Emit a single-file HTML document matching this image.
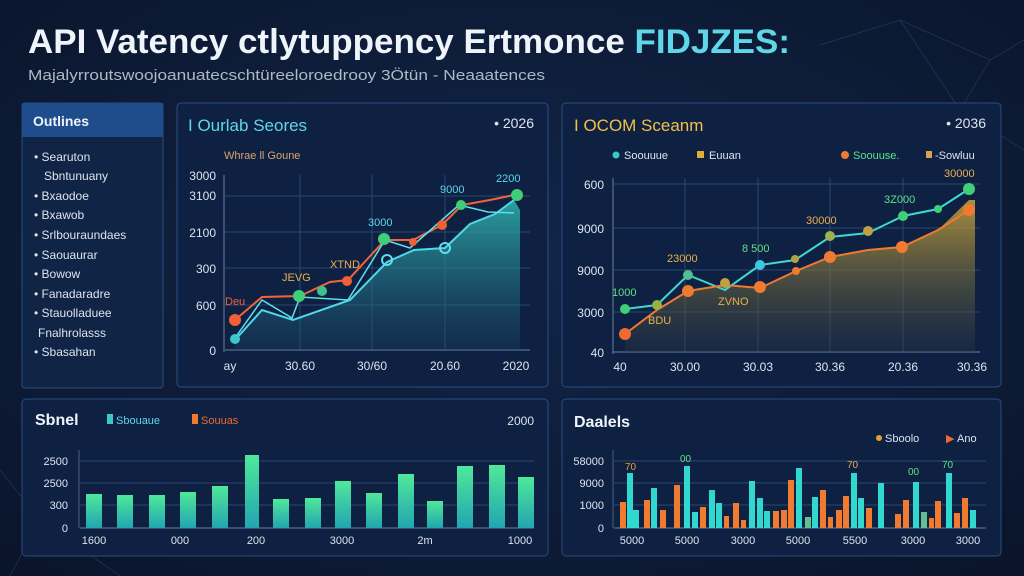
<!DOCTYPE html>
<html><head><meta charset="utf-8"><style>
html,body{margin:0;padding:0;width:1024px;height:576px;overflow:hidden;background:#0b1730}
svg{display:block}
text{font-family:"Liberation Sans",sans-serif}
</style></head><body>
<svg width="1024" height="576" viewBox="0 0 1024 576" xmlns="http://www.w3.org/2000/svg">
<defs>
<radialGradient id="bg" cx="0.5" cy="0.45" r="0.8">
<stop offset="0" stop-color="#12264a"/><stop offset="1" stop-color="#091327"/></radialGradient>
<linearGradient id="cf" x1="0" y1="0" x2="0" y2="1"><stop offset="0" stop-color="#2fb7b0" stop-opacity="0.85"/><stop offset="1" stop-color="#1b4a6a" stop-opacity="0.3"/></linearGradient>
<linearGradient id="yf" x1="0" y1="0" x2="0" y2="1"><stop offset="0" stop-color="#c9a43a" stop-opacity="0.85"/><stop offset="1" stop-color="#2a3a40" stop-opacity="0.3"/></linearGradient>
<linearGradient id="bar" x1="0" y1="0" x2="0" y2="1"><stop offset="0" stop-color="#4fe89a"/><stop offset="1" stop-color="#23a5b0"/></linearGradient>
</defs>
<rect width="1024" height="576" fill="url(#bg)"/>
<g stroke="#2d5b8f" stroke-width="0.7" opacity="0.5" fill="none">
<path d="M820 45 L900 20 L990 60 L1024 40 M900 20 L960 110 L1024 150 M990 60 L960 110"/>
<path d="M0 470 L40 520 L10 576 M40 520 L120 576"/>
</g>
<text x="28" y="53" font-size="34" font-weight="bold" fill="#eef4fa" textLength="762" lengthAdjust="spacingAndGlyphs">API Vatency ctlytuppency Ertmonce <tspan fill="#5fd7e8">FIDJZES:</tspan></text>
<text x="28" y="80" font-size="14.5" fill="#aeb8c6" textLength="517" lengthAdjust="spacingAndGlyphs">Majalyrroutswoojoanuatecschtüreeloroedrooy 3Ötün - Neaaatences</text>

<!-- sidebar -->
<rect x="22" y="103" width="141" height="285" rx="3" fill="#102446" stroke="#2a4d7f"/>
<rect x="22" y="103" width="141" height="34" fill="#1f4d8c"/>
<text x="33" y="126" font-size="14" font-weight="bold" fill="#eef4fa">Outlines</text>
<g font-size="12" fill="#dde4ee">
<text x="34" y="161">• Searuton</text>
<text x="44" y="180">Sbntunuany</text>
<text x="34" y="200">• Bxaodoe</text>
<text x="34" y="219">• Bxawob</text>
<text x="34" y="239">• Srlbouraundaes</text>
<text x="34" y="259">• Saouaurar</text>
<text x="34" y="278">• Bowow</text>
<text x="34" y="298">• Fanadaradre</text>
<text x="34" y="317">• Stauolladuee</text>
<text x="38" y="337">Fnalhrolasss</text>
<text x="34" y="356">• Sbasahan</text>
</g>

<!-- chart 2 -->
<rect x="177" y="103" width="371" height="284" rx="4" fill="#0f2143" stroke="#2a4d7f"/>
<text x="188" y="131" font-size="17" fill="#5fd7e8">I Ourlab Seores</text>
<text x="534" y="128" font-size="14" fill="#dde4ee" text-anchor="end">• 2026</text>
<text x="224" y="159" font-size="11" fill="#d9a36b">Whrae ll Goune</text>
<g stroke="#2b4670" stroke-width="1">
<line x1="225" y1="196" x2="530" y2="196"/><line x1="225" y1="232" x2="530" y2="232"/><line x1="225" y1="268" x2="530" y2="268"/><line x1="225" y1="305" x2="530" y2="305"/>
<line x1="300" y1="175" x2="300" y2="350"/><line x1="372" y1="175" x2="372" y2="350"/><line x1="445" y1="175" x2="445" y2="350"/>
</g>
<line x1="225" y1="350" x2="530" y2="350" stroke="#6b7f9e"/><line x1="224" y1="175" x2="224" y2="352" stroke="#6b7f9e"/>
<g font-size="12" fill="#dde4ee" text-anchor="end">
<text x="216" y="180">3000</text><text x="216" y="200">3100</text><text x="216" y="237">2100</text><text x="216" y="273">300</text><text x="216" y="310">600</text><text x="216" y="355">0</text>
</g>
<g font-size="12" fill="#dde4ee" text-anchor="middle">
<text x="230" y="370">ay</text><text x="300" y="370">30.60</text><text x="372" y="370">30/60</text><text x="445" y="370">20.60</text><text x="516" y="370">2020</text>
</g>
<path d="M235 340 L262 310 L293 320 L350 300 L387 262 L414 250 L445 248 L470 224 L495 214 L514 200 L520 210 L520 350 L235 350 Z" fill="url(#cf)"/>
<polyline points="235,340 262,310 293,320 350,300 387,262 414,250 445,248 470,224 495,214 514,200" fill="none" stroke="#4fd8e8" stroke-width="2"/>
<polyline points="235,320 262,297 300,296 330,282 348,280 385,240 413,240 442,225 462,205 490,200 514,195" fill="none" stroke="#f0643a" stroke-width="2"/>
<polyline points="235,338 262,300 292,318 300,297 348,300 385,240 410,248 459,205 488,212 514,213" fill="none" stroke="#5fe0e8" stroke-width="1.5"/>
<g>
<circle cx="235" cy="320" r="6" fill="#f06036"/><circle cx="235" cy="339" r="5" fill="#3cc8c8"/>
<circle cx="299" cy="296" r="6" fill="#3fcf78"/><circle cx="322" cy="291" r="5" fill="#40c090"/>
<circle cx="347" cy="281" r="5" fill="#f06036"/><circle cx="384" cy="239" r="6" fill="#3fcf78"/>
<circle cx="413" cy="242" r="4" fill="#f06036"/><circle cx="442" cy="225" r="5" fill="#f06036"/>
<circle cx="461" cy="205" r="5" fill="#3fcf78"/><circle cx="517" cy="195" r="6" fill="#3fcf78"/>
<circle cx="387" cy="260" r="5" fill="none" stroke="#5fe0e8" stroke-width="2"/><circle cx="445" cy="248" r="5" fill="none" stroke="#5fe0e8" stroke-width="2"/>
</g>
<g font-size="11">
<text x="225" y="305" fill="#f06036">Deu</text><text x="282" y="281" fill="#e8b04a">JEVG</text><text x="330" y="268" fill="#e8b04a">XTND</text>
<text x="368" y="226" fill="#5fd7e8">3000</text><text x="440" y="193" fill="#5fd7e8">9000</text><text x="496" y="182" fill="#5fd7e8">2200</text>
</g>

<!-- chart 3 -->
<rect x="562" y="103" width="439" height="284" rx="4" fill="#0f2143" stroke="#2a4d7f"/>
<text x="574" y="131" font-size="17" fill="#f2c04a">I OCOM Sceanm</text>
<text x="986" y="128" font-size="14" fill="#dde4ee" text-anchor="end">• 2036</text>
<g font-size="11">
<circle cx="616" cy="155" r="3.5" fill="#3cc8c8"/><text x="624" y="159" fill="#dde4ee">Soouuue</text>
<rect x="697" y="151" width="7" height="7" fill="#d8b03a"/><text x="709" y="159" fill="#dde4ee">Euuan</text>
<circle cx="845" cy="155" r="4" fill="#f07a30"/><text x="853" y="159" fill="#5fe08a">Soouuse.</text>
<rect x="926" y="151" width="6" height="7" fill="#d8a050"/><text x="935" y="159" fill="#dde4ee">-Sowluu</text>
</g>
<g stroke="#2b4670" stroke-width="1">
<line x1="614" y1="184" x2="980" y2="184"/><line x1="614" y1="228" x2="980" y2="228"/><line x1="614" y1="270" x2="980" y2="270"/><line x1="614" y1="312" x2="980" y2="312"/>
<line x1="685" y1="178" x2="685" y2="352"/><line x1="758" y1="178" x2="758" y2="352"/><line x1="830" y1="178" x2="830" y2="352"/><line x1="903" y1="178" x2="903" y2="352"/>
</g>
<line x1="613" y1="352" x2="980" y2="352" stroke="#6b7f9e"/><line x1="613" y1="178" x2="613" y2="354" stroke="#6b7f9e"/>
<g font-size="12" fill="#dde4ee" text-anchor="end">
<text x="604" y="189">600</text><text x="604" y="233">9000</text><text x="604" y="275">9000</text><text x="604" y="317">3000</text><text x="604" y="357">40</text>
</g>
<g font-size="12" fill="#dde4ee" text-anchor="middle">
<text x="620" y="371">40</text><text x="685" y="371">30.00</text><text x="758" y="371">30.03</text><text x="830" y="371">30.36</text><text x="903" y="371">20.36</text><text x="972" y="371">30.36</text>
</g>
<path d="M625 334 L657 310 L688 291 L725 285 L760 288 L796 271 L830 257 L868 250 L902 247 L938 230 L969 200 L975 200 L975 352 L625 352 Z" fill="url(#yf)"/>
<polyline points="625,309 657,305 688,275 725,290 760,265 795,260 830,237 868,233 903,216 938,209 969,189" fill="none" stroke="#3fd8d0" stroke-width="2"/>
<polyline points="625,334 657,310 688,291 725,285 760,288 796,271 830,257 868,250 902,247 938,230 969,210" fill="none" stroke="#f07a30" stroke-width="2"/>
<g>
<circle cx="625" cy="309" r="5" fill="#3fcf78"/><circle cx="657" cy="305" r="5" fill="#9ab040"/><circle cx="688" cy="275" r="5" fill="#50c090"/>
<circle cx="725" cy="283" r="5" fill="#c0a040"/><circle cx="760" cy="265" r="5" fill="#3cc8e0"/><circle cx="795" cy="259" r="4" fill="#b0a040"/>
<circle cx="830" cy="236" r="5" fill="#a0b050"/><circle cx="868" cy="231" r="5" fill="#c0a040"/><circle cx="903" cy="216" r="5" fill="#3fcf78"/>
<circle cx="938" cy="209" r="4" fill="#3fcf78"/><circle cx="969" cy="189" r="6" fill="#3fcf78"/>
<circle cx="625" cy="334" r="6" fill="#f06a30"/><circle cx="688" cy="291" r="6" fill="#f07a30"/><circle cx="760" cy="287" r="6" fill="#f07a30"/>
<circle cx="796" cy="271" r="4" fill="#f07a30"/><circle cx="830" cy="257" r="6" fill="#f07a30"/><circle cx="902" cy="247" r="6" fill="#f07a30"/><circle cx="969" cy="210" r="6" fill="#f07a30"/>
</g>
<g font-size="11">
<text x="612" y="296" fill="#5fe08a">1000</text><text x="648" y="324" fill="#e8b04a">BDU</text><text x="667" y="262" fill="#e8b04a">23000</text>
<text x="718" y="305" fill="#e8b04a">ZVNO</text><text x="742" y="252" fill="#5fe08a">8 500</text><text x="806" y="224" fill="#e8b04a">30000</text>
<text x="884" y="203" fill="#5fe08a">3Z000</text><text x="944" y="177" fill="#e8b04a">30000</text>
</g>

<!-- chart 4 -->
<rect x="22" y="399" width="526" height="157" rx="4" fill="#0f2143" stroke="#2a4d7f"/>
<text x="35" y="425" font-size="16" font-weight="bold" fill="#eef4fa">Sbnel</text>
<rect x="107" y="414" width="6" height="10" fill="#3cc8c8"/><text x="116" y="424" font-size="11" fill="#5fd7e8">Sbouaue</text>
<rect x="192" y="414" width="6" height="10" fill="#f07a30"/><text x="201" y="424" font-size="11" fill="#f06a30">Souuas</text>
<text x="534" y="425" font-size="12" fill="#dde4ee" text-anchor="end">2000</text>
<g stroke="#2b4670"><line x1="80" y1="461" x2="534" y2="461"/><line x1="80" y1="483" x2="534" y2="483"/><line x1="80" y1="505" x2="534" y2="505"/></g>
<line x1="80" y1="528" x2="534" y2="528" stroke="#6b7f9e"/><line x1="79" y1="450" x2="79" y2="528" stroke="#4b5f7e"/>
<g font-size="11" fill="#dde4ee" text-anchor="end"><text x="68" y="465">2500</text><text x="68" y="487">2500</text><text x="68" y="509">300</text><text x="68" y="532">0</text></g>
<g fill="url(#bar)">
<rect x="86" y="494" width="16" height="34"/><rect x="117" y="495" width="16" height="33"/><rect x="149" y="495" width="16" height="33"/>
<rect x="180" y="492" width="16" height="36"/><rect x="212" y="486" width="16" height="42"/><rect x="245" y="455" width="14" height="73"/>
<rect x="273" y="499" width="16" height="29"/><rect x="305" y="498" width="16" height="30"/><rect x="335" y="481" width="16" height="47"/>
<rect x="366" y="493" width="16" height="35"/><rect x="398" y="474" width="16" height="54"/><rect x="427" y="501" width="16" height="27"/>
<rect x="457" y="466" width="16" height="62"/><rect x="489" y="465" width="16" height="63"/><rect x="518" y="477" width="16" height="51"/>
</g>
<g font-size="11" fill="#dde4ee" text-anchor="middle">
<text x="94" y="544">1600</text><text x="180" y="544">000</text><text x="256" y="544">200</text><text x="342" y="544">3000</text><text x="425" y="544">2m</text><text x="520" y="544">1000</text>
</g>

<!-- chart 5 -->
<rect x="562" y="399" width="439" height="157" rx="4" fill="#0f2143" stroke="#2a4d7f"/>
<text x="574" y="427" font-size="16" font-weight="bold" fill="#eef4fa">Daalels</text>
<circle cx="879" cy="438" r="3" fill="#e8a030"/><text x="885" y="442" font-size="11" fill="#dde4ee">Sboolo</text>
<text x="946" y="442" font-size="11" fill="#f06a30">▶</text><text x="957" y="442" font-size="11" fill="#dde4ee">Ano</text>
<g stroke="#2b4670"><line x1="614" y1="461" x2="986" y2="461"/><line x1="614" y1="483" x2="986" y2="483"/><line x1="614" y1="505" x2="986" y2="505"/></g>
<line x1="614" y1="528" x2="986" y2="528" stroke="#6b7f9e"/><line x1="613" y1="450" x2="613" y2="528" stroke="#4b5f7e"/>
<g font-size="11" fill="#dde4ee" text-anchor="end"><text x="604" y="465">58000</text><text x="604" y="487">9000</text><text x="604" y="509">1000</text><text x="604" y="532">0</text></g>
<g>
<rect x="620" y="502" width="6" height="26" fill="#f07a30"/><rect x="627" y="473" width="6" height="55" fill="#30d8d0"/><rect x="633" y="510" width="6" height="18" fill="#30d8d0"/>
<rect x="644" y="500" width="6" height="28" fill="#f07a30"/><rect x="651" y="488" width="6" height="40" fill="#30d8d0"/><rect x="660" y="510" width="6" height="18" fill="#f07a30"/>
<rect x="674" y="485" width="6" height="43" fill="#f07a30"/><rect x="684" y="466" width="6" height="62" fill="#30d8d0"/><rect x="692" y="512" width="6" height="16" fill="#30d8d0"/>
<rect x="700" y="507" width="6" height="21" fill="#f07a30"/><rect x="709" y="490" width="6" height="38" fill="#30d8d0"/><rect x="716" y="503" width="6" height="25" fill="#30d8d0"/>
<rect x="724" y="516" width="5" height="12" fill="#f07a30"/><rect x="733" y="503" width="6" height="25" fill="#f07a30"/><rect x="741" y="520" width="5" height="8" fill="#f07a30"/>
<rect x="749" y="481" width="6" height="47" fill="#30d8d0"/><rect x="757" y="498" width="6" height="30" fill="#30d8d0"/><rect x="764" y="511" width="6" height="17" fill="#30d8d0"/>
<rect x="773" y="511" width="6" height="17" fill="#f07a30"/><rect x="781" y="510" width="6" height="18" fill="#f07a30"/><rect x="788" y="480" width="6" height="48" fill="#f07a30"/>
<rect x="796" y="468" width="6" height="60" fill="#30d8d0"/><rect x="805" y="517" width="6" height="11" fill="#60c090"/><rect x="812" y="497" width="6" height="31" fill="#30d8d0"/>
<rect x="820" y="490" width="6" height="38" fill="#f07a30"/><rect x="828" y="517" width="5" height="11" fill="#f07a30"/><rect x="836" y="510" width="6" height="18" fill="#f07a30"/>
<rect x="843" y="496" width="6" height="32" fill="#f07a30"/><rect x="851" y="473" width="6" height="55" fill="#30d8d0"/><rect x="858" y="498" width="6" height="30" fill="#30d8d0"/>
<rect x="866" y="508" width="6" height="20" fill="#f07a30"/><rect x="878" y="483" width="6" height="45" fill="#30d8d0"/><rect x="895" y="514" width="6" height="14" fill="#f07a30"/>
<rect x="903" y="500" width="6" height="28" fill="#f07a30"/><rect x="913" y="482" width="6" height="46" fill="#30d8d0"/><rect x="921" y="512" width="6" height="16" fill="#60c090"/>
<rect x="929" y="518" width="5" height="10" fill="#f07a30"/><rect x="935" y="501" width="6" height="27" fill="#f07a30"/><rect x="946" y="473" width="6" height="55" fill="#30d8d0"/>
<rect x="954" y="513" width="6" height="15" fill="#f07a30"/><rect x="962" y="498" width="6" height="30" fill="#f07a30"/><rect x="970" y="510" width="6" height="18" fill="#30d8d0"/>
</g>
<g font-size="10"><text x="625" y="470" fill="#e8a030">70</text><text x="680" y="462" fill="#5fe08a">00</text><text x="847" y="468" fill="#e8b04a">70</text><text x="908" y="475" fill="#5fe08a">00</text><text x="942" y="468" fill="#5fe08a">70</text></g>
<g font-size="11" fill="#dde4ee" text-anchor="middle">
<text x="632" y="544">5000</text><text x="687" y="544">5000</text><text x="743" y="544">3000</text><text x="798" y="544">5000</text><text x="855" y="544">5500</text><text x="913" y="544">3000</text><text x="968" y="544">3000</text>
</g>
</svg>
</body></html>
